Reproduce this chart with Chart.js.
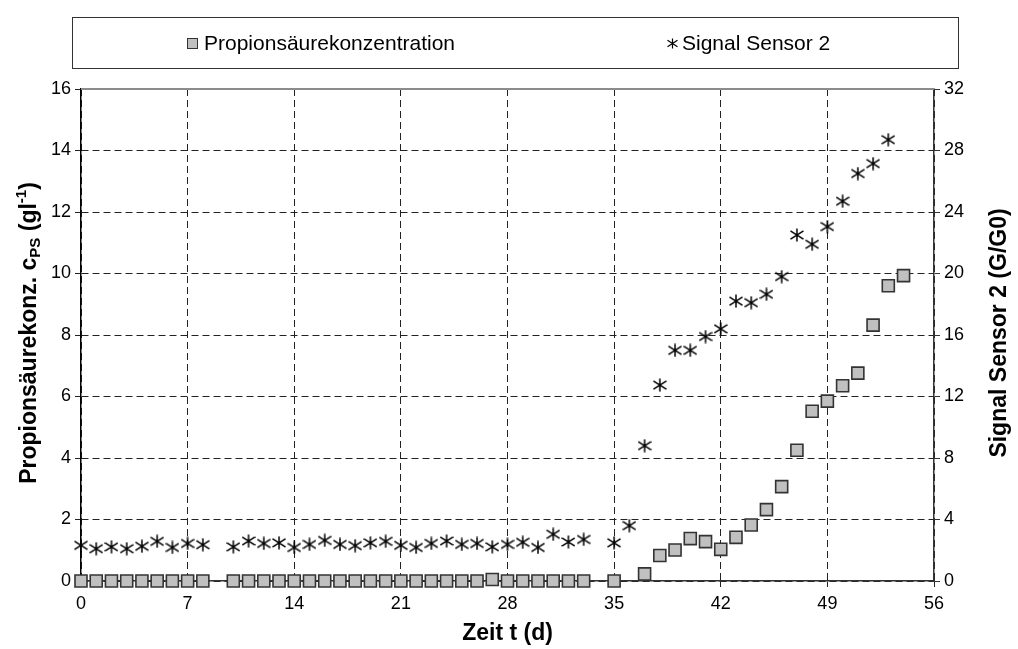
<!DOCTYPE html>
<html>
<head>
<meta charset="utf-8">
<script src="https://cdn.jsdelivr.net/npm/chart.js@4.4.1/dist/chart.umd.min.js"></script>
<style>
  html, body { margin: 0; padding: 0; background: #fff; }
  #wrap { position: relative; width: 1018px; height: 649px; }
  #legend {
    position: absolute; left: 72px; top: 17px; width: 885px; height: 50px;
    border: 1px solid #333; font-family: 'Liberation Sans', Arial, sans-serif; font-size: 21px; color: #000;
  }
  .item { position: absolute; top: 0; height: 50px; display: flex; align-items: center; }
  .sq { display: inline-block; width: 11px; height: 11px; box-sizing: border-box;
        background: #c0c0c0; border: 1.5px solid #333; margin-right: 6px; }
  .item canvas { margin-right: 4px; }
</style>
</head>
<body>
<div id="wrap">
  <canvas id="chart" width="1018" height="649"></canvas>
  <div id="legend"></div>
</div>
<script>
// Messwerte
const tage = [0, 1, 2, 3, 4, 5, 6, 7, 8, 9, 10, 11, 12, 13, 14, 15, 16, 17, 18, 19,
  20, 21, 22, 23, 24, 25, 26, 27, 28, 29, 30, 31, 32, 33, 34, 35, 36, 37, 38, 39,
  40, 41, 42, 43, 44, 45, 46, 47, 48, 49, 50, 51, 52, 53, 54];

// Propionsäurekonzentration (g/l), linke Achse
const propionsaeure = [0, 0, 0, 0, 0, 0, 0, 0, 0, null, 0, 0, 0, 0, 0, 0, 0, 0, 0, 0,
  0, 0, 0, 0, 0, 0, 0, 0.05, 0, 0, 0, 0, 0, 0, null, 0, null, 0.23, 0.83, 1.01,
  1.38, 1.28, 1.03, 1.42, 1.82, 2.32, 3.07, 4.25, 5.52, 5.85, 6.35, 6.76, 8.32, 9.6, 9.93];

// Signal Sensor 2 (G/G0), rechte Achse
const signalSensor2 = [2.32, 2.10, 2.22, 2.10, 2.26, 2.58, 2.18, 2.44, 2.36, null, 2.22, 2.60, 2.44, 2.48, 2.18, 2.38, 2.64, 2.38, 2.30, 2.48,
  2.58, 2.32, 2.18, 2.44, 2.60, 2.38, 2.44, 2.22, 2.38, 2.52, 2.18, 3.04, 2.54, 2.70, null, 2.48, 3.60, 8.8, 12.74, 15.0,
  15.0, 15.9, 16.4, 18.2, 18.1, 18.65, 19.8, 22.5, 21.9, 23.05, 24.7, 26.5, 27.15, 28.7, null];

const serienNamen = ['Propionsäurekonzentration', 'Signal Sensor 2'];

const schrift = "'Liberation Sans', Arial, sans-serif";

// Sternmarker (senkrechter Strich + X)
function sternMarker(s, lw) {
  const c = document.createElement('canvas');
  c.width = s; c.height = s;
  const g = c.getContext('2d');
  g.strokeStyle = '#000';
  g.lineWidth = lw;
  const m = s / 2;
  g.beginPath();
  g.moveTo(m, 0.5); g.lineTo(m, s - 0.5);
  g.moveTo(0.5, s * 0.2); g.lineTo(s - 0.5, s * 0.8);
  g.moveTo(s - 0.5, s * 0.2); g.lineTo(0.5, s * 0.8);
  g.stroke();
  return c;
}

function punkte(werte) {
  return tage.map((t, i) => ({ x: t, y: werte[i] })).filter(p => p.y !== null);
}

// Achsentitel mit Hoch-/Tiefstellung
function drehText(ctx, teile, cx, cy) {
  ctx.save();
  ctx.translate(cx, cy);
  ctx.rotate(-Math.PI / 2);
  ctx.textBaseline = 'middle';
  ctx.textAlign = 'left';
  ctx.fillStyle = '#000';
  let gesamt = 0;
  teile.forEach(p => {
    ctx.font = 'bold ' + p.s + 'px ' + schrift;
    p.w = ctx.measureText(p.t).width;
    gesamt += p.w;
  });
  let x = -gesamt / 2;
  teile.forEach(p => {
    ctx.font = 'bold ' + p.s + 'px ' + schrift;
    ctx.fillText(p.t, x, p.dy || 0);
    x += p.w;
  });
  ctx.restore();
}

const titelPlugin = {
  id: 'titel',
  afterDraw(chart) {
    const ctx = chart.ctx;
    const a = chart.chartArea;
    // obere Rahmenlinie
    ctx.save();
    ctx.strokeStyle = '#8c8c8c';
    ctx.lineWidth = 2;
    ctx.beginPath();
    ctx.moveTo(a.left, a.top);
    ctx.lineTo(a.right, a.top);
    ctx.stroke();
    ctx.restore();

    const mitte = (a.top + a.bottom) / 2 - 2;
    drehText(ctx, [
      { t: 'Propionsäurekonz. c', s: 23 },
      { t: 'PS', s: 15, dy: 6 },
      { t: ' (gl', s: 23 },
      { t: '-1', s: 15, dy: -8 },
      { t: ')', s: 23 }
    ], 30, mitte);
    drehText(ctx, [{ t: 'Signal Sensor 2 (G/G0)', s: 23 }], 1000, mitte);
  }
};

const ctx = document.getElementById('chart');

new Chart(ctx, {
  type: 'scatter',
  data: {
    datasets: [{
      label: serienNamen[0],
      data: punkte(propionsaeure),
      yAxisID: 'y',
      clip: false,
      pointStyle: 'rect',
      pointRadius: 8.5,
      pointBackgroundColor: '#c0c0c0',
      pointBorderColor: '#333',
      pointBorderWidth: 1.6
    }, {
      label: serienNamen[1],
      data: punkte(signalSensor2),
      yAxisID: 'y2',
      clip: false,
      pointStyle: sternMarker(14, 1.5),
      pointRadius: 7
    }]
  },
  options: {
    responsive: false,
    animation: false,
    layout: { padding: { top: 89, left: 0, right: 0, bottom: 0 } },
    plugins: {
      legend: { display: false },
      tooltip: { enabled: false }
    },
    scales: {
      x: {
        type: 'linear',
        min: 0, max: 56,
        afterFit: s => { s.height = 68; },
        ticks: { stepSize: 7, color: '#000', font: { family: schrift, size: 18 }, padding: 6 },
        grid: { color: '#222', lineWidth: 1, tickLength: 6 },
        border: { color: '#333', width: 1.5, dash: [7, 4] },
        title: { display: true, text: 'Zeit t (d)', color: '#000',
                 font: { family: schrift, size: 23, weight: 'bold' }, padding: { top: 0, bottom: 2 } }
      },
      y: {
        position: 'left',
        min: 0, max: 16,
        afterFit: s => { s.width = 81; },
        ticks: { stepSize: 2, color: '#000', font: { family: schrift, size: 18 }, padding: 4 },
        grid: { color: '#222', lineWidth: 1, tickLength: 6 },
        border: { color: '#000', width: 1.5, dash: [7, 4] }
      },
      y2: {
        position: 'right',
        min: 0, max: 32,
        afterFit: s => { s.width = 84; },
        ticks: { stepSize: 4, color: '#000', font: { family: schrift, size: 18 }, padding: 4 },
        grid: { drawOnChartArea: false, color: '#333', tickLength: 6 },
        border: { color: '#333', width: 1.5 }
      }
    }
  },
  plugins: [titelPlugin]
});

// Legende
const legende = document.getElementById('legend');
const pos = [114, 594];
serienNamen.forEach((name, i) => {
  const el = document.createElement('div');
  el.className = 'item';
  el.style.left = pos[i] + 'px';
  if (i === 0) {
    const sq = document.createElement('span');
    sq.className = 'sq';
    el.appendChild(sq);
  } else {
    el.appendChild(sternMarker(11, 1.2));
  }
  const txt = document.createElement('span');
  txt.textContent = name;
  el.appendChild(txt);
  legende.appendChild(el);
});
</script>
</body>
</html>
